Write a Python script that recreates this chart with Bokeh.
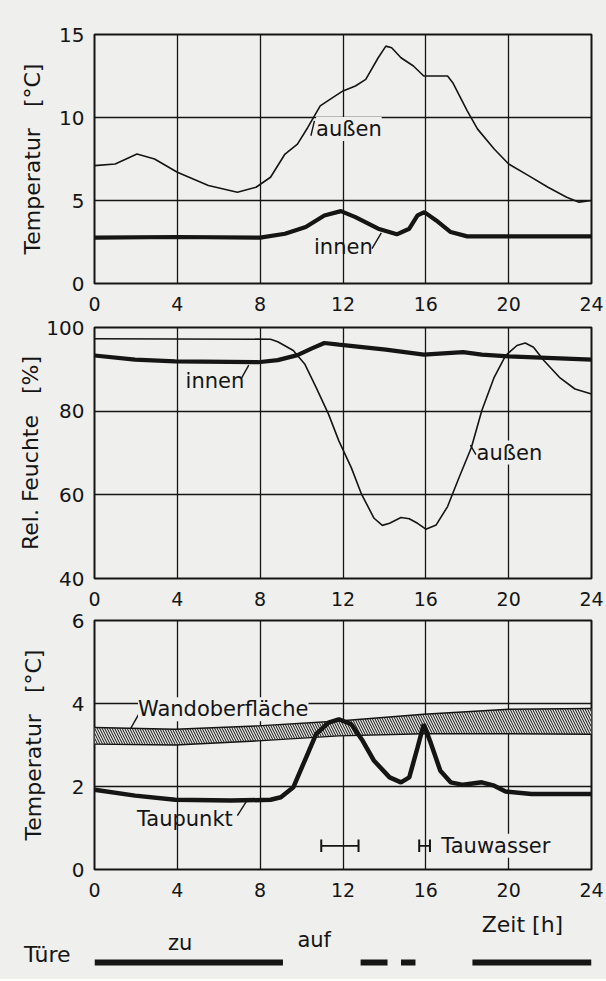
from bokeh.plotting import figure
from bokeh.layouts import column
from bokeh.models import Range1d, FixedTicker, Label
from bokeh.embed import file_html
from bokeh.resources import INLINE

# ---------------- data ----------------
hours_ticks = [0, 4, 8, 12, 16, 20, 24]

# Panel 1: temperature [°C]
t_aussen_h = [0, 1.0, 2.05, 2.9, 4.0, 5.5, 6.9, 7.8, 8.5, 9.2, 9.8, 10.3, 10.9, 11.5, 12.0,
              12.6, 13.1, 13.7, 14.07, 14.35, 14.8, 15.4, 15.9, 16.5, 17.05, 17.3, 18.0,
              18.5, 19.3, 20.0, 20.96, 21.9, 22.8, 23.4, 24]
t_aussen = [7.1, 7.2, 7.8, 7.5, 6.7, 5.9, 5.5, 5.8, 6.4, 7.8, 8.4, 9.4, 10.7, 11.2, 11.6,
            11.9, 12.3, 13.6, 14.3, 14.2, 13.6, 13.1, 12.5, 12.5, 12.5, 12.1, 10.4,
            9.3, 8.1, 7.2, 6.5, 5.8, 5.2, 4.9, 5.0]
t_innen_h = [0, 4, 8, 9.2, 10.2, 11.1, 11.9, 12.6, 13.7, 14.6, 15.2, 15.6, 15.93, 16.5,
             17.2, 18.0, 24]
t_innen = [2.76, 2.8, 2.76, 3.0, 3.4, 4.1, 4.36, 4.0, 3.3, 2.96, 3.3, 4.1, 4.3, 3.8,
           3.1, 2.84, 2.84]

# Panel 2: relative humidity [%]
rh_aussen_h = [0, 8.5, 8.85, 9.6, 10.15, 10.7, 11.3, 11.8, 12.4, 12.9, 13.5, 13.9, 14.25,
               14.8, 15.2, 15.6, 16.0, 16.5, 17.05, 17.6, 18.2, 18.7, 19.3, 19.85, 20.4,
               20.8, 21.2, 21.7, 22.45, 23.2, 24]
rh_aussen = [97.3, 97.2, 96.6, 94.5, 91.3, 85.7, 79.3, 72.9, 66.5, 60.1, 54.4, 52.7, 53.2,
             54.6, 54.3, 53.2, 51.8, 52.8, 57.2, 64.1, 71.3, 80.1, 88.1, 93.3, 95.7,
             96.3, 95.3, 92.1, 88.1, 85.3, 84.1]
rh_innen_h = [0, 1.96, 3.9, 7.9, 8.85, 9.8, 10.5, 11.1, 11.8, 14.07, 15.9, 17.8, 18.7,
              20.0, 24]
rh_innen = [93.3, 92.3, 91.9, 91.7, 92.2, 93.4, 95.0, 96.3, 95.9, 94.7, 93.5, 94.1, 93.5,
            93.1, 92.3]

# Panel 3: wall surface band and dew point [°C]
wand_h = [0, 3.9, 7.9, 11.8, 15.9, 20.0, 24]
wand_oben = [3.42, 3.38, 3.46, 3.58, 3.74, 3.86, 3.88]
wand_unten = [3.02, 3.0, 3.1, 3.22, 3.27, 3.27, 3.26]
tau_h = [0, 1.96, 3.9, 6.6, 8.5, 9.0, 9.6, 10.15, 10.7, 11.3, 11.8, 12.4, 12.95, 13.5,
         14.25, 14.8, 15.2, 15.6, 15.9, 16.2, 16.7, 17.2, 17.8, 18.7, 19.3, 19.85, 21.1, 24]
taupunkt = [1.92, 1.78, 1.68, 1.66, 1.68, 1.74, 1.98, 2.62, 3.26, 3.54, 3.62, 3.5, 3.1,
            2.62, 2.22, 2.1, 2.22, 2.94, 3.5, 3.1, 2.38, 2.1, 2.04, 2.1, 2.02, 1.88, 1.82,
            1.82]
tauwasser_start = [10.95, 15.68]
tauwasser_end = [12.75, 16.2]
tauwasser_level = 0.57

# Door state (closed = "zu" bars)
tuer_start = [-0.15, 12.85, 14.8, 18.25]
tuer_end = [9.1, 14.15, 15.5, 24.05]
tuer_label = "Türe"

# ---------------- style ----------------
BG = "#efefed"
INK = "#151515"
FONT = "DejaVu Sans"
W = 606
BL, BR = 94, 15
NB = "\u00a0"


def panel(height, ytop, ybot, yr, yticks, ylabel, lab_standoff):
    p = figure(width=W, height=height, x_range=Range1d(0, 24), y_range=Range1d(*yr),
               output_backend="svg", toolbar_location=None,
               min_border_left=BL, min_border_right=BR,
               min_border_top=ytop, min_border_bottom=ybot)
    p.background_fill_color = BG
    p.border_fill_color = BG
    p.outline_line_color = INK
    p.outline_line_width = 2
    p.xaxis.ticker = FixedTicker(ticks=hours_ticks)
    p.yaxis.ticker = FixedTicker(ticks=yticks)
    for ax in (p.xaxis[0], p.yaxis[0]):
        ax.axis_line_color = None
        ax.major_tick_line_color = None
        ax.minor_tick_line_color = None
        ax.major_label_text_font = FONT
        ax.major_label_text_color = INK
    p.xaxis.major_label_text_font_size = "19px"
    p.yaxis.major_label_text_font_size = "20px"
    p.xaxis.major_label_standoff = 7
    p.yaxis.major_label_standoff = 4
    p.yaxis.axis_label = ylabel
    p.yaxis.axis_label_text_font = FONT
    p.yaxis.axis_label_text_font_size = "22px"
    p.yaxis.axis_label_text_font_style = "normal"
    p.yaxis.axis_label_text_color = INK
    p.yaxis.axis_label_standoff = lab_standoff
    for g in (p.xgrid[0], p.ygrid[0]):
        g.grid_line_color = INK
        g.grid_line_alpha = 1.0
        g.grid_line_width = 1.3
    p.xgrid.ticker = FixedTicker(ticks=hours_ticks)
    p.ygrid.ticker = FixedTicker(ticks=yticks)
    return p


def label(p, x, y, text, bg=True, size="21px"):
    p.add_layout(Label(x=x, y=y, text=text, text_font=FONT, text_font_size=size,
                       text_color=INK, text_baseline="middle",
                       background_fill_color=BG if bg else None,
                       background_fill_alpha=1.0 if bg else 0.0))


# ---------- panel 1 ----------
p1 = panel(313, 34, 30, (0, 15), [0, 5, 10, 15], "Temperatur" + NB * 3 + "[°C]", 11)
p1.line(t_aussen_h, t_aussen, line_color=INK, line_width=1.6)
p1.line(t_innen_h, t_innen, line_color=INK, line_width=4.2)
label(p1, 10.7, 9.3, "außen")
label(p1, 10.6, 2.2, "innen", bg=False)
p1.segment(x0=[10.45], y0=[8.9], x1=[10.62], y1=[9.8], line_color=INK, line_width=1.4)
p1.segment(x0=[13.4], y0=[2.1], x1=[13.85], y1=[3.05], line_color=INK, line_width=1.4)

# ---------- panel 2 ----------
p2 = panel(295, 14, 30, (40, 100), [40, 60, 80, 100], "Rel." + NB + "Feuchte" + NB * 3 + "[%]", 0)
p2.line(rh_aussen_h, rh_aussen, line_color=INK, line_width=1.6)
p2.line(rh_innen_h, rh_innen, line_color=INK, line_width=4.2)
label(p2, 4.4, 87.3, "innen", bg=False)
label(p2, 18.45, 70.1, "außen")
p2.segment(x0=[7.08], y0=[87.7], x1=[7.45], y1=[91.0], line_color=INK, line_width=1.4)
p2.segment(x0=[18.15], y0=[71.9], x1=[18.42], y1=[69.6], line_color=INK, line_width=1.4)

# ---------- panel 3 ----------
p3 = panel(291, 12, 30, (0, 6), [0, 2, 4, 6], "Temperatur" + NB * 3 + "[°C]", 23)
p3.varea(x=wand_h, y1=wand_unten, y2=wand_oben, fill_color="#e2e2e0",
         hatch_pattern="left_diagonal_line", hatch_color=INK, hatch_scale=5,
         hatch_weight=1.0)
p3.line(wand_h, wand_oben, line_color=INK, line_width=1.4)
p3.line(wand_h, wand_unten, line_color=INK, line_width=1.4)
p3.line(tau_h, taupunkt, line_color=INK, line_width=4.5)
label(p3, 2.1, 3.86, "Wandoberfläche")
label(p3, 2.05, 1.22, "Taupunkt", bg=False)
label(p3, 16.75, tauwasser_level, "Tauwasser")
p3.segment(x0=[2.2], y0=[3.8], x1=[1.75], y1=[3.4], line_color=INK, line_width=1.4)
p3.segment(x0=[6.9], y0=[1.3], x1=[7.36], y1=[1.66], line_color=INK, line_width=1.4)
lvl = [tauwasser_level] * len(tauwasser_start)
p3.segment(x0=tauwasser_start, y0=lvl, x1=tauwasser_end, y1=lvl, line_color=INK,
           line_width=1.8)
p3.segment(x0=tauwasser_start, y0=[v - 0.15 for v in lvl], x1=tauwasser_start,
           y1=[v + 0.15 for v in lvl], line_color=INK, line_width=2)
p3.segment(x0=tauwasser_end, y0=[v - 0.15 for v in lvl], x1=tauwasser_end,
           y1=[v + 0.15 for v in lvl], line_color=INK, line_width=2)

# ---------- door row ----------
p4 = figure(width=W, height=80, x_range=Range1d(0, 24),
            y_range=Range1d(80, 0), output_backend="svg", toolbar_location=None,
            min_border_left=BL, min_border_right=BR, min_border_top=0,
            min_border_bottom=0)
p4.background_fill_color = BG
p4.border_fill_color = BG
p4.outline_line_color = None
p4.xgrid.visible = False
p4.ygrid.visible = False
p4.xaxis.visible = False
p4.yaxis.ticker = FixedTicker(ticks=[55])
p4.yaxis.major_label_overrides = {55: tuer_label}
p4.yaxis.axis_line_color = None
p4.yaxis.major_tick_line_color = None
p4.yaxis.minor_tick_line_color = None
p4.yaxis.major_label_standoff = 18
p4.yaxis.major_label_text_font = FONT
p4.yaxis.major_label_text_font_size = "22px"
p4.yaxis.major_label_text_color = INK
p4.hbar(y=[63] * len(tuer_start), left=tuer_start, right=tuer_end, height=6,
        fill_color=INK, line_color=None)
label(p4, 18.7, 25, "Zeit" + NB + "[h]", bg=False, size="22px")
label(p4, 3.55, 43, "zu", bg=False)
label(p4, 9.8, 40, "auf", bg=False)

layout = column(p1, p2, p3, p4, spacing=0)
layout.background = BG
open("out.html", "w").write(file_html(layout, INLINE))
